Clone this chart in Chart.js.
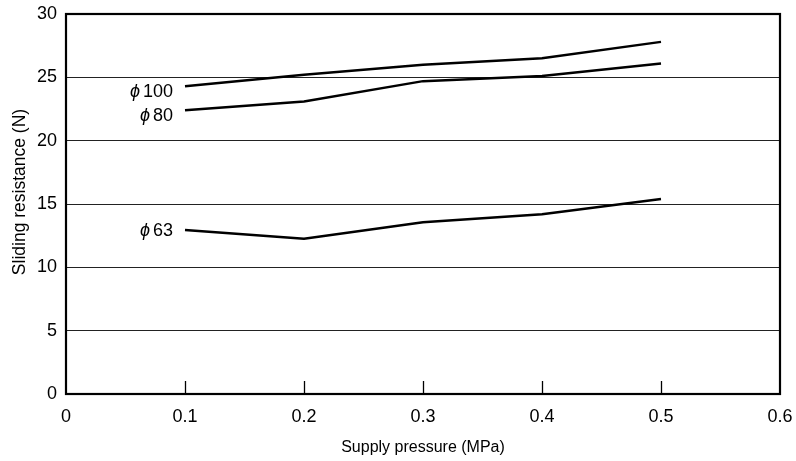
<!DOCTYPE html>
<html lang="en">
<head>
    <meta charset="UTF-8">
    <title>Sliding resistance vs supply pressure</title>
    <script src="https://cdn.jsdelivr.net/npm/chart.js"></script>
    <style>
        html, body { margin: 0; padding: 0; background: #FFFFFF; }
        .chart-box { width: 796px; height: 461px; position: relative; }
    </style>
</head>
<body>
    <div class="chart-box">
        <canvas id="slidingChart"></canvas>
    </div>

    <script>
        // data
        const pressures = [0.1, 0.2, 0.3, 0.4, 0.5];
        const bore100 = [24.3, 25.2, 26.0, 26.5, 27.8];
        const bore80 = [22.4, 23.1, 24.7, 25.1, 26.1];
        const bore63 = [12.95, 12.25, 13.55, 14.2, 15.4];
        const seriesNames = ['100', '80', '63'];
        const xTicks = [0, 0.1, 0.2, 0.3, 0.4, 0.5, 0.6];
        const yTicks = [0, 5, 10, 15, 20, 25, 30];

        const FONT = 'Liberation Sans, Arial, sans-serif';

        // frame, inner tick marks on the x axis, and the y title
        const framePlugin = {
            id: 'frame',
            afterDraw(chart) {
                const { ctx, chartArea: { left, right, top, bottom }, scales: { x } } = chart;
                ctx.save();
                ctx.strokeStyle = '#000';
                ctx.lineWidth = 1.3;
                xTicks.forEach(v => {
                    if (v === 0 || v === 0.6) return;
                    const px = Math.round(x.getPixelForValue(v)) + 0.5;
                    ctx.beginPath();
                    ctx.moveTo(px, bottom);
                    ctx.lineTo(px, bottom - 13);
                    ctx.stroke();
                });
                ctx.lineWidth = 2.2;
                ctx.strokeRect(left, top, right - left, bottom - top);

                // y title sits a little above the middle in the reference
                ctx.translate(20, 192);
                ctx.rotate(-Math.PI / 2);
                ctx.fillStyle = '#000';
                ctx.font = '17.5px ' + FONT;
                ctx.textAlign = 'center';
                ctx.textBaseline = 'middle';
                ctx.fillText('Sliding resistance (N)', 0, 0);
                ctx.restore();
            }
        };

        // "ϕ 100" style labels at the start of each line
        const seriesLabelPlugin = {
            id: 'seriesLabels',
            afterDatasetsDraw(chart) {
                const { ctx, scales: { x, y } } = chart;
                const dy = [6, 6, 1];
                ctx.save();
                ctx.fillStyle = '#000';
                ctx.textBaseline = 'middle';
                chart.data.datasets.forEach((ds, i) => {
                    const px = x.getPixelForValue(ds.data[0].x) - 12;
                    const py = y.getPixelForValue(ds.data[0].y) + dy[i];
                    ctx.font = '18px ' + FONT;
                    ctx.textAlign = 'right';
                    const num = seriesNames[i];
                    ctx.fillText(num, px, py);
                    const w = ctx.measureText(num).width;
                    ctx.font = 'italic 18px ' + FONT;
                    ctx.fillText('\u03D5', px - w - 3, py);
                });
                ctx.restore();
            }
        };

        const toPoints = vals => vals.map((v, i) => ({ x: pressures[i], y: v }));

        const lineStyle = {
            borderColor: '#000',
            borderWidth: 2.5,
            pointRadius: 0,
            tension: 0,
            fill: false
        };

        new Chart(document.getElementById('slidingChart'), {
            type: 'line',
            data: {
                datasets: [
                    { label: 'ϕ100', data: toPoints(bore100), ...lineStyle },
                    { label: 'ϕ80', data: toPoints(bore80), ...lineStyle },
                    { label: 'ϕ63', data: toPoints(bore63), ...lineStyle }
                ]
            },
            options: {
                responsive: true,
                maintainAspectRatio: false,
                animation: false,
                layout: { padding: { left: 0, top: 14, right: 16, bottom: 0 } },
                plugins: {
                    legend: { display: false },
                    tooltip: { enabled: false }
                },
                scales: {
                    x: {
                        type: 'linear',
                        min: 0, max: 0.6,
                        afterBuildTicks: s => { s.ticks = xTicks.map(v => ({ value: v })); },
                        afterFit: s => {
                            s.height = 67;
                            s.paddingLeft = 0;
                            s.paddingRight = 0;
                        },
                        grid: { display: false, drawTicks: false },
                        border: { display: false },
                        ticks: {
                            color: '#000',
                            font: { family: FONT, size: 18 },
                            padding: 12,
                            maxRotation: 0,
                            callback: v => v === 0 ? '0' : v.toFixed(1)
                        },
                        title: {
                            display: true,
                            text: 'Supply pressure (MPa)',
                            color: '#000',
                            font: { family: FONT, size: 16 },
                            padding: { top: 4 }
                        }
                    },
                    y: {
                        min: 0, max: 30,
                        afterBuildTicks: s => { s.ticks = yTicks.map(v => ({ value: v })); },
                        afterFit: s => {
                            s.width = 66;
                            s.paddingTop = 0;
                            s.paddingBottom = 0;
                        },
                        grid: { color: '#222', lineWidth: 1, drawTicks: false },
                        border: { display: false },
                        ticks: {
                            color: '#000',
                            font: { family: FONT, size: 18 },
                            padding: 9
                        }
                    }
                }
            },
            plugins: [framePlugin, seriesLabelPlugin]
        });
    </script>
</body>
</html>
